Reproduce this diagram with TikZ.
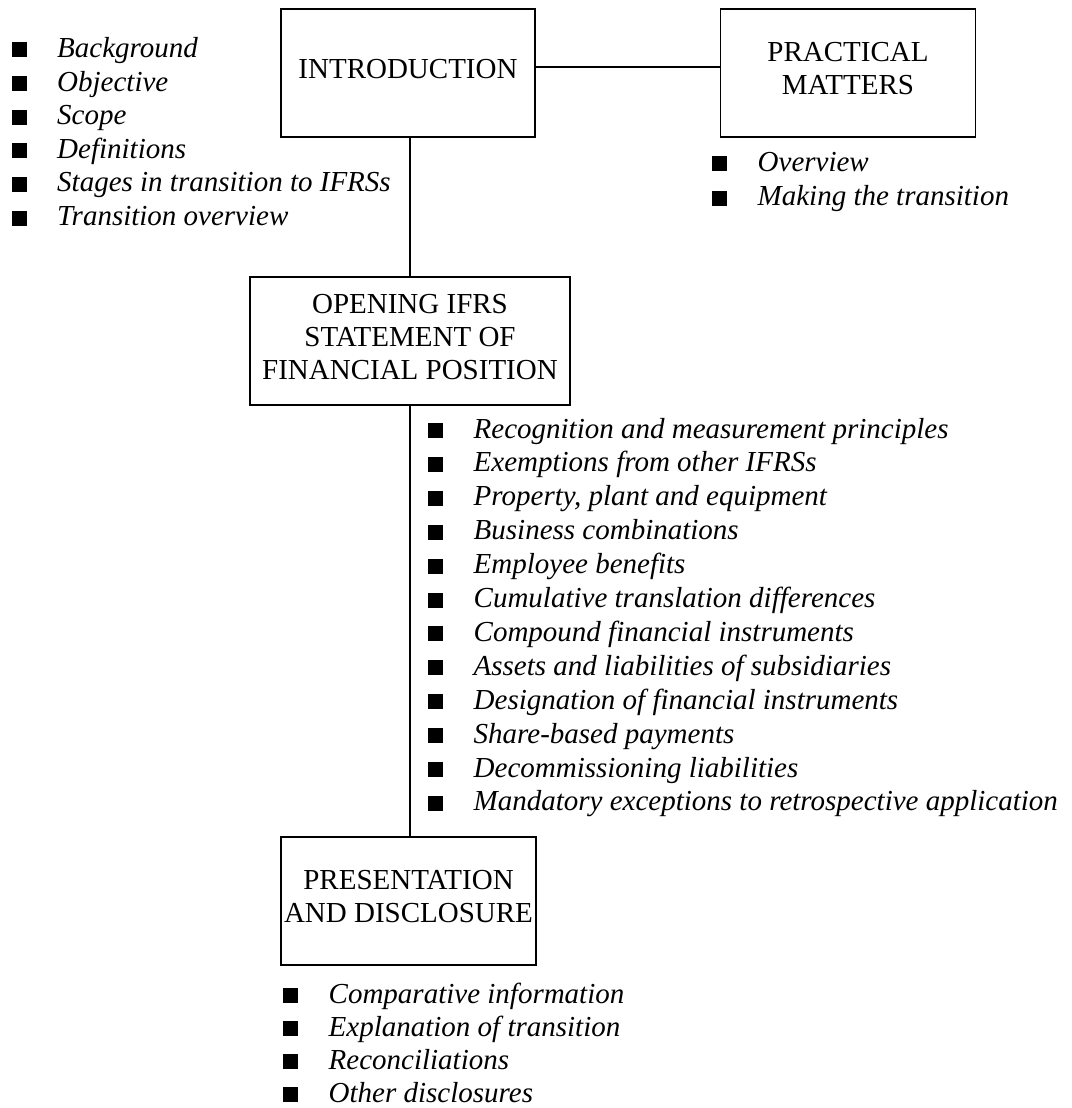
\documentclass[tikz,border=0pt]{standalone}
\usepackage{fontspec}
\setmainfont{Liberation Serif}
\newcommand{\bulsq}{\makebox[45.5pt][l]{\rule{15pt}{15pt}}}
\newcommand{\lowstrut}{\rule[-9pt]{0pt}{9pt}}
\begin{document}
\begin{tikzpicture}[x=1pt,y=-1pt,
  boxnode/.style={draw,line width=1.8pt,minimum height=128pt,inner sep=0pt,
    align=center,font=\fontsize{29}{33}\selectfont},
  conn/.style={line width=1.4pt},
  itemnode/.style={anchor=base west,inner sep=0pt,font=\fontsize{29}{33}\selectfont}]
\useasboundingbox (0,0) rectangle (1071,1108);

\node[boxnode,minimum width=254pt] (intro) at (408,73) {INTRODUCTION\lowstrut};
\node[boxnode,minimum width=255pt] (prac) at (848,73) {PRACTICAL\\MATTERS\lowstrut};
\node[boxnode,minimum width=320pt] (open) at (410,341) {OPENING IFRS\\STATEMENT OF\\FINANCIAL POSITION\lowstrut};
\node[boxnode,minimum width=255pt] (pres) at (408.5,901) {PRESENTATION\\AND DISCLOSURE\lowstrut};

\draw[conn] ([yshift=6pt]intro.east) -- ([yshift=6pt]intro.east -| prac.west);
\draw[conn] (open.north |- intro.south) -- (open.north);
\draw[conn] (open.south) -- (open.south |- pres.north);

\foreach \t [count=\i] in {Background,Objective,Scope,Definitions,Stages in transition to IFRSs,Transition overview}
  \node[itemnode] (la\i) at (11.5,{57.5+33.6*(\i-1)}) {\bulsq\textit{\t}};

\foreach \t [count=\i] in {Overview,Making the transition}
  \node[itemnode] (lb\i) at (712,{171+34.5*(\i-1)}) {\bulsq\textit{\t}};

\foreach \t [count=\i] in {Recognition and measurement principles,Exemptions from other IFRSs,{Property, plant and equipment},Business combinations,Employee benefits,Cumulative translation differences,Compound financial instruments,Assets and liabilities of subsidiaries,Designation of financial instruments,Share-based payments,Decommissioning liabilities,Mandatory exceptions to retrospective application}
  \node[itemnode] (lc\i) at (428,{438+33.9*(\i-1)}) {\bulsq\textit{\t}};

\foreach \t [count=\i] in {Comparative information,Explanation of transition,Reconciliations,Other disclosures}
  \node[itemnode] (ld\i) at (283,{1003+33*(\i-1)}) {\bulsq\textit{\t}};
\end{tikzpicture}
\end{document}
